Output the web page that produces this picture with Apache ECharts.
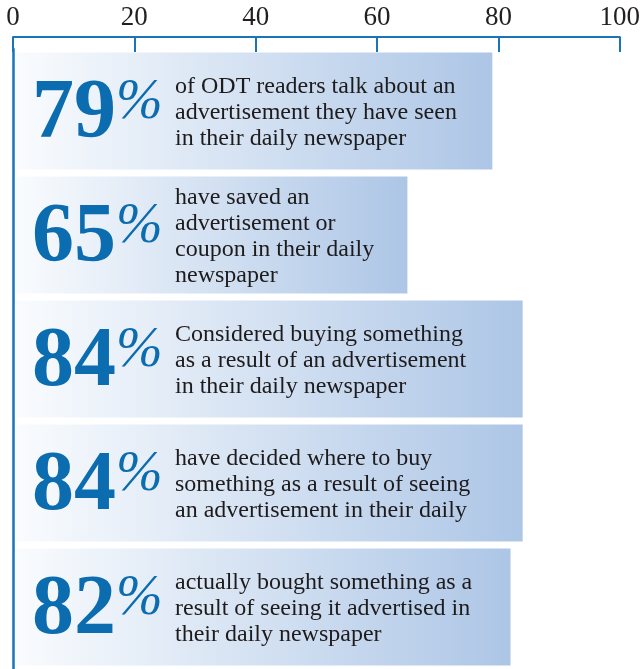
<!DOCTYPE html>
<html>
<head>
<meta charset="utf-8">
<script src="https://cdn.jsdelivr.net/npm/echarts@6/dist/echarts.min.js"></script>
<style>
html,body{margin:0;padding:0;background:#fff;}
#chart{width:643px;height:669px;}
</style>
</head>
<body>
<div id="chart"></div>
<script>
const categories = [
  "of ODT readers talk about an\nadvertisement they have seen\nin their daily newspaper",
  "have saved an\nadvertisement or\ncoupon in their daily\nnewspaper",
  "Considered buying something\nas a result of an advertisement\nin their daily newspaper",
  "have decided where to buy\nsomething as a result of seeing\nan advertisement in their daily",
  "actually bought something as a\nresult of seeing it advertised in\ntheir daily newspaper"
];
const values = [79, 65, 84, 84, 82];
const tickLabels = [0, 20, 40, 60, 80, 100];

const BLUE = '#1b74b8';
const NUM_BLUE = '#0b6cb0';
const SERIF = '"Liberation Serif", "DejaVu Serif", serif';

const barGradient = {
  type: 'linear', x: 0, y: 0, x2: 1, y2: 0,
  colorStops: [
    { offset: 0, color: '#fafcfe' },
    { offset: 1, color: '#adc6e6' }
  ]
};

const chart = echarts.init(document.getElementById('chart'), null, { renderer: 'canvas' });
chart.setOption({
  animation: false,
  backgroundColor: '#ffffff',
  grid: { left: 13, right: 22, top: 49, bottom: -5, containLabel: false },
  xAxis: {
    type: 'value',
    position: 'top',
    offset: 12,
    min: tickLabels[0],
    max: tickLabels[tickLabels.length - 1],
    interval: tickLabels[1] - tickLabels[0],
    axisLine: { show: true, lineStyle: { color: BLUE, width: 2 } },
    axisTick: { show: true, inside: true, length: 15, lineStyle: { color: BLUE, width: 2 } },
    axisLabel: { color: '#231f20', fontFamily: SERIF, fontSize: 27, margin: 6 },
    splitLine: { show: false }
  },
  yAxis: {
    type: 'category',
    inverse: true,
    z: 10,
    data: categories,
    axisLine: { show: true, lineStyle: { color: BLUE, width: 2.5 } },
    axisTick: { show: false },
    axisLabel: { show: false },
    splitLine: { show: false }
  },
  series: [
    {
      type: 'bar',
      data: values,
      barWidth: 117,
      itemStyle: { color: barGradient },
      label: {
        show: true,
        position: [19, '50%'],
        offset: [0, 4],
        verticalAlign: 'middle',
        formatter: p => '{num|' + p.value + '}{pct|%}',
        rich: {
          num: { fontFamily: SERIF, fontWeight: 'bold', fontSize: 84, color: NUM_BLUE, lineHeight: 80 },
          pct: { fontFamily: SERIF, fontStyle: 'italic', fontSize: 56, color: NUM_BLUE, verticalAlign: 'top', lineHeight: 60 }
        }
      }
    },
    {
      type: 'bar',
      data: values,
      barWidth: 117,
      barGap: '-100%',
      itemStyle: { color: 'rgba(0,0,0,0)' },
      label: {
        show: true,
        position: [162, '50%'],
        offset: [0, 2],
        verticalAlign: 'middle',
        align: 'left',
        formatter: p => categories[p.dataIndex],
        fontFamily: SERIF,
        fontSize: 24,
        lineHeight: 26,
        color: '#1e1b1c'
      }
    }
  ]
});
</script>
</body>
</html>
